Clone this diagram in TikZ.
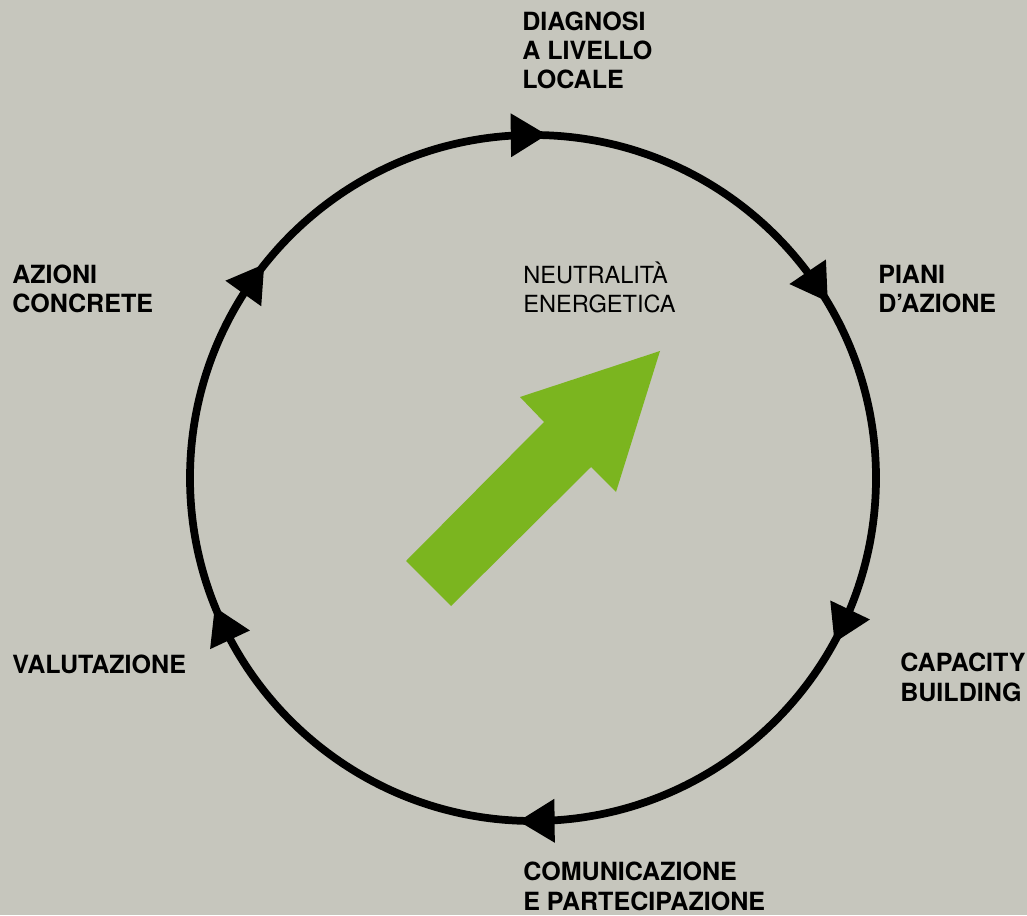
\documentclass[tikz,border=0pt]{standalone}
\usepackage{fontspec}
\setmainfont{TeX Gyre Heros}
\definecolor{bg}{RGB}{198,198,189}
\definecolor{leaf}{RGB}{123,181,31}
\begin{document}
\begin{tikzpicture}[x=0.75pt,y=0.75pt,
  lbl/.style={font=\fontsize{18.8}{22.1}\selectfont\bfseries, align=left, inner sep=0pt, anchor=base west},
  plain/.style={font=\fontsize{17.7}{22.1}\selectfont, align=left, inner sep=0pt, anchor=base west},
  ring/.style={line width=5.8pt, draw=black},
  tip/.style={fill=black}]
\fill[bg] (0,0) rectangle (1027,915);
\useasboundingbox (0,0) rectangle (1027,915);
\coordinate (c) at (533,437);
\draw[ring] (c) circle[radius=343];
\foreach \a in {90.7,33.9,-25.6,-89.4,205.1,144.5}{
  \begin{scope}[shift={(c)}, rotate=\a]
    \fill[tip] (321,18) -- (365,18) -- (343,-18) -- cycle;
  \end{scope}
}
\fill[leaf] (660,564) -- (520,518) -- (544,493) -- (406,354) -- (451,309) -- (591,448) -- (616,423) -- cycle;
\node[lbl] (diag) at (522,826) {DIAGNOSI\\A LIVELLO\\LOCALE};
\node[lbl] (piani) at (878,602) {PIANI\\D’AZIONE};
\node[lbl] (cap) at (900,214) {CAPACITY\\BUILDING};
\node[lbl] (com) at (523,5) {COMUNICAZIONE\\E PARTECIPAZIONE};
\node[lbl] (val) at (12,242) {VALUTAZIONE};
\node[lbl] (azi) at (12,602) {AZIONI\\CONCRETE};
\node[plain] (neut) at (523,602) {NEUTRALITÀ\\ENERGETICA};
\end{tikzpicture}
\end{document}
